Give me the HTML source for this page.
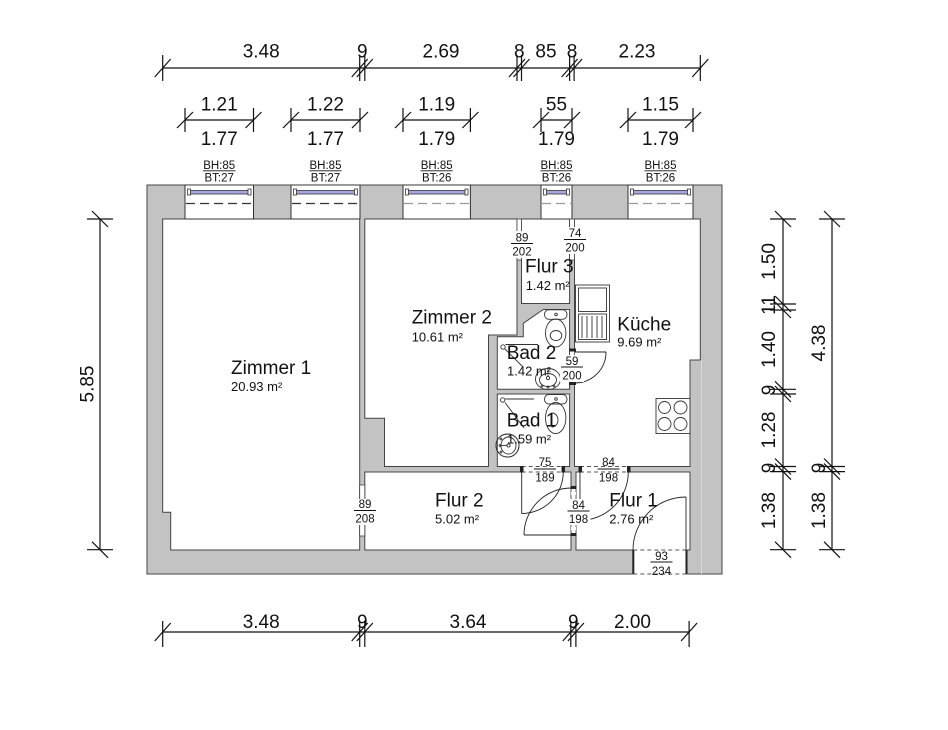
<!DOCTYPE html>
<html><head><meta charset="utf-8"><style>
html,body{margin:0;padding:0;background:#fff;}
svg{display:block;}
text{font-family:"Liberation Sans",Arial,sans-serif;fill:#111;}
.d{font-size:19px;text-anchor:middle;}
.r{font-size:19px;}
.a{font-size:13px;}
.s{font-size:11.5px;text-anchor:middle;}
</style></head><body>
<svg width="948" height="730" viewBox="0 0 948 730" xmlns="http://www.w3.org/2000/svg">
<rect width="948" height="730" fill="#fff"/>
<rect x="147" y="185" width="575" height="389" fill="#c3c3c3" stroke="#444" stroke-width="1"/>
<line x1="701.5" y1="360" x2="701.5" y2="574" stroke="#d8d8d8" stroke-width="1"/>
<g fill="#fff" stroke="#444" stroke-width="1">
<path d="M162.7,219 H359.7 V550 H170.7 V512.3 H162.7 Z"/>
<path d="M364.8,219 H517 V335 H488.5 V466.5 H384.5 V418.3 H364.8 Z"/>
<rect x="521.5" y="219" width="48.1" height="84.5"/>
<path d="M497.3,336.7 H523.3 V323.3 L543.3,309.5 H569.6 V389.3 H497.3 Z"/>
<rect x="497.3" y="394" width="72.3" height="72.5"/>
<path d="M574.5,219 H700.3 V360 H690 V466.5 H574.5 Z"/>
<rect x="364.8" y="472" width="206.2" height="78"/>
<rect x="576" y="472" width="114" height="78"/>
</g>
<g stroke="#333" stroke-width="1">
<rect x="185" y="185" width="68.5" height="34" fill="#fff"/>
<rect x="291" y="185" width="69" height="34" fill="#fff"/>
<rect x="403" y="185" width="67.4" height="34" fill="#fff"/>
<rect x="541" y="185" width="31" height="34" fill="#fff"/>
<rect x="628" y="185" width="65" height="34" fill="#fff"/>
</g>
<g fill="#a6a6e2" stroke="#333" stroke-width="0.8">
<rect x="189" y="190.5" width="60.5" height="3.5"/>
<rect x="295" y="190.5" width="61" height="3.5"/>
<rect x="407" y="190.5" width="59.4" height="3.5"/>
<rect x="545" y="190.5" width="23" height="3.5"/>
<rect x="632" y="190.5" width="57" height="3.5"/>
</g>
<g fill="#fff" stroke="#333" stroke-width="0.8">
<rect x="187.5" y="189" width="3" height="6"/><rect x="248" y="189" width="3" height="6"/>
<rect x="293.5" y="189" width="3" height="6"/><rect x="354.5" y="189" width="3" height="6"/>
<rect x="405.5" y="189" width="3" height="6"/><rect x="465" y="189" width="3" height="6"/>
<rect x="543.5" y="189" width="3" height="6"/><rect x="566.5" y="189" width="3" height="6"/>
<rect x="630.5" y="189" width="3" height="6"/><rect x="687.5" y="189" width="3" height="6"/>
</g>
<g stroke-dasharray="9 5" stroke-width="1.2">
<line x1="186" y1="203.5" x2="253" y2="203.5" stroke="#333"/>
<line x1="292" y1="203.5" x2="359" y2="203.5" stroke="#333"/>
<line x1="404" y1="203.5" x2="470" y2="203.5" stroke="#999"/>
<line x1="542" y1="203.5" x2="571" y2="203.5" stroke="#999"/>
<line x1="629" y1="203.5" x2="692" y2="203.5" stroke="#999"/>
</g>
<g fill="#fff" stroke="#444" stroke-width="0.8">
<rect x="359.7" y="485" width="5.1" height="51"/>
<rect x="517" y="219" width="4.5" height="41"/>
<rect x="569.6" y="219" width="4.9" height="41"/>
<rect x="569.6" y="350" width="5" height="33"/>
</g>
<g fill="#fff" stroke="none">
<rect x="521.7" y="466" width="41.6" height="6.5"/>
<rect x="580" y="466" width="48.3" height="6.5"/>
<rect x="571" y="488" width="5" height="47"/>
<rect x="633.3" y="549.5" width="53.4" height="25"/>
</g>
<g stroke="#555" stroke-width="0.9" stroke-dasharray="4 3">
<line x1="521.7" y1="466.5" x2="563.3" y2="466.5"/><line x1="521.7" y1="472" x2="563.3" y2="472"/>
<line x1="580" y1="466.5" x2="628.3" y2="466.5"/><line x1="580" y1="472" x2="628.3" y2="472"/>
<line x1="571" y1="488" x2="571" y2="535"/><line x1="576" y1="488" x2="576" y2="535"/>
<line x1="633.3" y1="550" x2="686.7" y2="550"/><line x1="633.3" y1="574" x2="686.7" y2="574"/>
</g>
<g fill="#222">
<rect x="569" y="348.5" width="7" height="3"/><rect x="569" y="382" width="7" height="3"/>
<rect x="520" y="466" width="3.5" height="6.5"/><rect x="561.5" y="466" width="3.5" height="6.5"/>
<rect x="578.5" y="466" width="3.5" height="6.5"/><rect x="627" y="466" width="3.5" height="6.5"/>
<rect x="570.5" y="486" width="6" height="3"/><rect x="570.5" y="533" width="6" height="3"/>
<rect x="632.3" y="550" width="2" height="24"/><rect x="685.5" y="550" width="2" height="24"/>
</g>
<g fill="none" stroke="#222" stroke-width="0.9">
<line x1="521.7" y1="472" x2="521.7" y2="513.5"/>
<path d="M521.7,513.5 A41.6,41.6 0 0 0 563.3,472"/>
<line x1="580" y1="472" x2="580" y2="520.3"/>
<path d="M580,520.3 A48.3,48.3 0 0 0 628.3,472"/>
<line x1="571" y1="535" x2="524" y2="535"/>
<path d="M524,535 A47,47 0 0 1 571,488"/>
<line x1="575" y1="352" x2="606" y2="352"/>
<path d="M606,352 A31,31 0 0 1 575,383"/>
<line x1="686" y1="550" x2="686" y2="497"/>
<path d="M686,497 A53,53 0 0 0 633,550"/>
</g>
<g fill="none" stroke="#333" stroke-width="0.9">
<rect x="575.5" y="285" width="34" height="57" fill="#fff"/>
<rect x="578.5" y="288" width="28" height="23.5"/>
<rect x="578.5" y="314" width="28" height="25.5"/>
<line x1="582" y1="316" x2="582" y2="338"/><line x1="587" y1="316" x2="587" y2="338"/>
<line x1="592" y1="316" x2="592" y2="338"/><line x1="597" y1="316" x2="597" y2="338"/>
<line x1="602" y1="316" x2="602" y2="338"/>
<rect x="656" y="398.5" width="34" height="35" fill="#fff"/>
<circle cx="664.5" cy="407.5" r="6"/><circle cx="680.5" cy="407.5" r="6.5"/>
<circle cx="664.5" cy="424" r="6.5"/><circle cx="680.5" cy="424" r="6.5"/>
<rect x="544.5" y="309.8" width="22.5" height="9.5" rx="4.5"/>
<ellipse cx="555.7" cy="333" rx="10.2" ry="14"/>
<ellipse cx="556" cy="335.5" rx="5.8" ry="5"/>
<circle cx="556" cy="314.5" r="1.3"/>
<ellipse cx="548" cy="379" rx="12.5" ry="10.5"/>
<ellipse cx="548" cy="380" rx="8.5" ry="6.5"/>
<circle cx="548" cy="378" r="1.6"/>
<line x1="548" y1="369" x2="548" y2="376"/>
<circle cx="542" cy="386" r="0.9"/><circle cx="548" cy="387" r="0.9"/><circle cx="554" cy="386" r="0.9"/>
<circle cx="503" cy="347" r="2.2"/>
<line x1="505.5" y1="344.5" x2="538" y2="344.5"/>
<line x1="505" y1="349" x2="523" y2="367"/>
<rect x="544.5" y="394.5" width="22.5" height="9.5" rx="4.5"/>
<ellipse cx="555.7" cy="418" rx="10.2" ry="15.5"/>
<path d="M552,413 A6,7 0 0 1 552,427 Z"/>
<circle cx="556" cy="399" r="1.3"/>
<circle cx="507.5" cy="445.5" r="11.5"/>
<ellipse cx="508.5" cy="445.5" rx="7.5" ry="8.5"/>
<circle cx="508.5" cy="445.5" r="1.6"/>
<line x1="500" y1="445.5" x2="507" y2="445.5"/>
<circle cx="501" cy="439" r="0.9"/><circle cx="500" cy="445.5" r="0.9"/><circle cx="501" cy="452" r="0.9"/>
<circle cx="502.7" cy="400" r="2.2"/>
<line x1="505.5" y1="399" x2="534" y2="399"/>
<line x1="505" y1="402.5" x2="524" y2="428"/>
</g>
<g fill="#fff">
<rect x="353" y="499" width="24" height="26"/>
<rect x="510" y="231" width="24" height="27"/>
<rect x="563" y="227" width="24" height="27"/>
<rect x="560" y="355" width="24" height="27"/>
<rect x="566.5" y="499" width="24" height="26"/>
</g>
<g>
<text class="s" x="365" y="508">89</text><text class="s" x="365" y="522.5">208</text>
<text class="s" x="522" y="241.5">89</text><text class="s" x="522" y="255.5">202</text>
<text class="s" x="575" y="237">74</text><text class="s" x="575" y="251.5">200</text>
<text class="s" x="572" y="365">59</text><text class="s" x="572" y="379.5">200</text>
<text class="s" x="545" y="466">75</text><text class="s" x="545" y="481.5">189</text>
<text class="s" x="608.5" y="466">84</text><text class="s" x="608.5" y="481.5">198</text>
<text class="s" x="578.5" y="509">84</text><text class="s" x="578.5" y="523">198</text>
<text class="s" x="661.5" y="560">93</text><text class="s" x="661.5" y="575">234</text>
</g>
<g stroke="#111" stroke-width="0.9">
<line x1="354" y1="510.5" x2="376" y2="510.5"/>
<line x1="511" y1="243.5" x2="533" y2="243.5"/>
<line x1="564" y1="239.5" x2="586" y2="239.5"/>
<line x1="561" y1="367" x2="583" y2="367"/>
<line x1="534" y1="469" x2="556" y2="469"/>
<line x1="597.5" y1="469" x2="619.5" y2="469"/>
<line x1="567.5" y1="511" x2="589.5" y2="511"/>
<line x1="650.5" y1="562" x2="672.5" y2="562"/>
</g>
<g>
<text class="s" x="219.2" y="169">BH:85</text><text class="s" x="219.2" y="181.5">BT:27</text>
<text class="s" x="325.5" y="169">BH:85</text><text class="s" x="325.5" y="181.5">BT:27</text>
<text class="s" x="436.7" y="169">BH:85</text><text class="s" x="436.7" y="181.5">BT:26</text>
<text class="s" x="556.5" y="169">BH:85</text><text class="s" x="556.5" y="181.5">BT:26</text>
<text class="s" x="660.5" y="169">BH:85</text><text class="s" x="660.5" y="181.5">BT:26</text>
</g>
<g stroke="#111" stroke-width="0.9">
<line x1="203" y1="170.8" x2="235.5" y2="170.8"/>
<line x1="309.5" y1="170.8" x2="341.5" y2="170.8"/>
<line x1="420.7" y1="170.8" x2="452.7" y2="170.8"/>
<line x1="540.5" y1="170.8" x2="572.5" y2="170.8"/>
<line x1="644.5" y1="170.8" x2="676.5" y2="170.8"/>
</g>
<text class="r" x="231" y="374">Zimmer 1</text><text class="a" x="231" y="391">20.93 m²</text>
<text class="r" x="411.7" y="323.3">Zimmer 2</text><text class="a" x="411.7" y="341.7">10.61 m²</text>
<text class="r" x="525" y="272.3">Flur 3</text><text class="a" x="525.7" y="290">1.42 m²</text>
<text class="r" x="617.3" y="330.7">Küche</text><text class="a" x="617.3" y="346.7">9.69 m²</text>
<text class="r" x="506.7" y="359">Bad 2</text><text class="a" x="507" y="375.7">1.42 m²</text>
<text class="r" x="506.7" y="426.7">Bad 1</text><text class="a" x="507" y="443.3">1.59 m²</text>
<text class="r" x="435" y="506.7">Flur 2</text><text class="a" x="435" y="523.3">5.02 m²</text>
<text class="r" x="609.3" y="506.7">Flur 1</text><text class="a" x="609.3" y="523.3">2.76 m²</text>
<circle cx="507.5" cy="445.5" r="11.5" fill="none" stroke="#333" stroke-width="0.9"/>
<g stroke="#111" stroke-width="1.2" fill="none">
<line x1="162.7" y1="68" x2="700.3" y2="68"/>
<path d="M162.7,55V81M154.7,77L170.7,59 M359.7,55V81M351.7,77L367.7,59 M364.8,55V81M356.8,77L372.8,59 M517,55V81M509,77L525,59 M521.5,55V81M513.5,77L529.5,59 M569.6,55V81M561.6,77L577.6,59 M574.1,55V81M566.1,77L582.1,59 M700.3,55V81M692.3,77L708.3,59"/>
<line x1="185" y1="120" x2="253.5" y2="120"/>
<line x1="291" y1="120" x2="360" y2="120"/>
<line x1="403" y1="120" x2="470.4" y2="120"/>
<line x1="541" y1="120" x2="572" y2="120"/>
<line x1="628" y1="120" x2="693" y2="120"/>
<path d="M185,108V132M177,128L193,112 M253.5,108V132M245.5,128L261.5,112 M291,108V132M283,128L299,112 M360,108V132M352,128L368,112 M403,108V132M395,128L411,112 M470.4,108V132M462.4,128L478.4,112 M541,108V132M533,128L549,112 M572,108V132M564,128L580,112 M628,108V132M620,128L636,112 M693,108V132M685,128L701,112"/>
<line x1="162.7" y1="632" x2="689.1" y2="632"/>
<path d="M162.7,621V647M154.7,641L170.7,623 M359.7,621V647M351.7,641L367.7,623 M364.8,621V647M356.8,641L372.8,623 M570.8,621V647M562.8,641L578.8,623 M575.9,621V647M567.9,641L583.9,623 M689.1,621V647M681.1,641L697.1,623"/>
<line x1="100" y1="219" x2="100" y2="549.7"/>
<path d="M87,219H113M92,211L108,227 M87,549.7H113M92,541.7L108,557.7"/>
<line x1="783" y1="219" x2="783" y2="549.7"/>
<path d="M770,219H796M775,211L791,227 M770,304H796M775,296L791,312 M770,310H796M775,302L791,318 M770,389.3H796M775,381.3L791,397.3 M770,394H796M775,386L791,402 M770,466.5H796M775,458.5L791,474.5 M770,471.6H796M775,463.6L791,479.6 M770,549.7H796M775,541.7L791,557.7"/>
<line x1="832" y1="219" x2="832" y2="549.7"/>
<path d="M819,219H845M824,211L840,227 M819,466.5H845M824,458.5L840,474.5 M819,471.6H845M824,463.6L840,479.6 M819,549.7H845M824,541.7L840,557.7"/>
</g>
<g>
<text class="d" x="261.2" y="57.5">3.48</text>
<text class="d" x="362.3" y="57.5">9</text>
<text class="d" x="441" y="57.5">2.69</text>
<text class="d" x="519.3" y="57.5">8</text>
<text class="d" x="546" y="57.5">85</text>
<text class="d" x="572" y="57.5">8</text>
<text class="d" x="637" y="57.5">2.23</text>
<text class="d" x="219.2" y="110.5">1.21</text><text class="d" x="219.2" y="145">1.77</text>
<text class="d" x="325.5" y="110.5">1.22</text><text class="d" x="325.5" y="145">1.77</text>
<text class="d" x="436.7" y="110.5">1.19</text><text class="d" x="436.7" y="145">1.79</text>
<text class="d" x="556.5" y="110.5">55</text><text class="d" x="556.5" y="145">1.79</text>
<text class="d" x="660.5" y="110.5">1.15</text><text class="d" x="660.5" y="145">1.79</text>
<text class="d" x="261.2" y="628">3.48</text>
<text class="d" x="362.3" y="628">9</text>
<text class="d" x="468" y="628">3.64</text>
<text class="d" x="573.3" y="628">9</text>
<text class="d" x="632.5" y="628">2.00</text>
<text class="d" transform="translate(93.5,384) rotate(-90)">5.85</text>
<text class="d" transform="translate(775,261.5) rotate(-90)">1.50</text>
<text class="d" transform="translate(775,305) rotate(-90)">11</text>
<text class="d" transform="translate(775,349.5) rotate(-90)">1.40</text>
<text class="d" transform="translate(775,390) rotate(-90)">9</text>
<text class="d" transform="translate(775,430) rotate(-90)">1.28</text>
<text class="d" transform="translate(775,468) rotate(-90)">9</text>
<text class="d" transform="translate(775,510.6) rotate(-90)">1.38</text>
<text class="d" transform="translate(825,343) rotate(-90)">4.38</text>
<text class="d" transform="translate(825,468) rotate(-90)">9</text>
<text class="d" transform="translate(825,510.6) rotate(-90)">1.38</text>
</g>
</svg>
</body></html>
